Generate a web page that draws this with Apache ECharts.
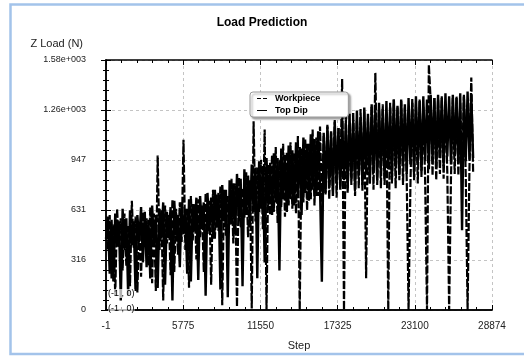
<!DOCTYPE html>
<html><head><meta charset="utf-8">
<script src="https://cdn.jsdelivr.net/npm/echarts@6/dist/echarts.min.js"></script>
<style>html,body{margin:0;padding:0;background:#fff}#c{width:524px;height:356px}</style>
</head><body><div id="c"></div>
<script>
const seriesNames = ['Workpiece', 'Top Dip'];
const xTickValues = [-1, 5775, 11550, 17325, 23100, 28874];
const yTickLabels = ['0', '316', '631', '947', '1.26e+003', '1.58e+003'];
const SAMPLE_STEP = 138;

const workpiece = [
  560, 380, 600, 200, 540, 90, 640, 400, 580, 250,
  610, 280, 530, 150, 690, 390, 590, 110, 560, 210,
  620, 400, 580, 280, 650, 170, 610, 120, 977, 380,
  630, 60, 660, 420, 600, 220, 700, 240, 640, 350,
  680, 430, 1076, 380, 640, 140, 720, 440, 670, 320,
  700, 460, 660, 240, 740, 480, 690, 160, 760, 450,
  730, 500, 780, 30, 760, 470, 720, 540, 830, 420,
  800, 20, 840, 520, 770, 580, 870, 460, 820, 10,
  1193, 560, 900, 620, 950, 510, 1140, 0, 920, 600,
  980, 620, 1030, 550, 950, 650, 1050, 590, 1000, 660,
  1060, 640, 990, 610, 1100, 0, 1020, 680, 1080, 630,
  1050, 700, 1140, 660, 1090, 720, 1160, 680, 1100, 730,
  1170, 700, 1120, 750, 1200, 710, 1150, 780, 1460, 0,
  1220, 740, 1170, 790, 1250, 720, 1200, 770, 1270, 750,
  1260, 200, 1210, 800, 1290, 760, 1500, 790, 1270, 770,
  1300, 790, 1240, 0, 1310, 800, 1330, 770, 1280, 820,
  1320, 790, 1280, 830, 0, 780, 1340, 820, 1300, 800,
  1330, 840, 1290, 810, 0, 1550, 1320, 850, 1340, 820,
  1330, 860, 1350, 830, 1300, 870, 0, 840, 1340, 860,
  1350, 850, 1310, 880, 1360, 850, 0, 890, 1470, 870
];
const topDip = [
  450, 590, 230, 570, 180, 610, 400, 560, 60, 640,
  380, 580, 90, 630, 410, 560, 120, 600, 430, 650,
  300, 620, 270, 570, 200, 660, 420, 600, 140, 640,
  450, 680, 160, 620, 460, 650, 60, 690, 470, 600,
  270, 680, 480, 640, 230, 700, 180, 670, 500, 710,
  190, 720, 520, 680, 90, 740, 500, 710, 450, 760,
  520, 740, 130, 790, 560, 760, 80, 820, 540, 800,
  480, 860, 580, 830, 150, 890, 600, 850, 540, 920,
  620, 900, 200, 940, 640, 910, 300, 960, 660, 930,
  600, 990, 680, 960, 250, 1020, 700, 980, 620, 1040,
  700, 1010, 660, 1060, 720, 1030, 600, 1090, 740, 1050,
  690, 1110, 760, 1080, 720, 1130, 780, 178, 1120, 740,
  1160, 790, 1130, 720, 1190, 800, 1150, 760, 1210, 820,
  1180, 770, 1240, 830, 1200, 760, 1260, 850, 1220, 790,
  1280, 860, 1240, 800, 1300, 870, 1260, 820, 1310, 880,
  1270, 830, 1320, 890, 1280, 840, 1330, 900, 1290, 850,
  1330, 910, 1300, 860, 1340, 920, 1310, 870, 1350, 930,
  1320, 880, 1350, 940, 1330, 890, 1360, 950, 1340, 900,
  1360, 960, 1340, 910, 1370, 970, 1350, 920, 1360, 980,
  1340, 930, 1370, 504, 1350, 940, 1380, 950, 1360, 960
];

const FONT = '"Liberation Sans", Arial, sans-serif';
const toPairs = arr => arr.map((v, i) => [i * SAMPLE_STEP, v]);
const chart = echarts.init(document.getElementById('c'));

const gridX = {
  type: 'value', min: 0, max: 5, interval: 1,
  axisLine: { show: true, lineStyle: { color: '#000', width: 1.5 } },
  axisLabel: { show: false },
  axisTick: { show: true, inside: true, length: 5, lineStyle: { color: '#000' } },
  minorTick: { show: true, splitNumber: 5, length: 3, lineStyle: { color: '#000' } },
  splitLine: { show: false }
};
const tickY = {
  type: 'value', min: 0, max: 1580, interval: 316,
  axisLine: { show: true, lineStyle: { color: '#000', width: 1.5 } },
  axisTick: { show: true, inside: true, length: 5, lineStyle: { color: '#000' } },
  minorTick: { show: true, splitNumber: 5, length: 3, lineStyle: { color: '#000' } }
};

chart.setOption({
  animation: false,
  backgroundColor: '#fff',
  textStyle: { fontFamily: FONT },
  title: {
    text: 'Load Prediction', left: 'center', top: 12,
    textStyle: { fontSize: 12, fontWeight: 'bold', color: '#000', fontFamily: FONT }
  },
  legend: {
    data: [
      { name: seriesNames[0], icon: 'path://M0,0h4v1h-4zM6,0h4v1h-4z' },
      { name: seriesNames[1], icon: 'path://M0,0h10v1h-10z' }
    ],
    orient: 'vertical', left: 250, top: 92,
    itemWidth: 10, itemHeight: 2, itemGap: 1, padding: [1, 28, 1, 7],
    backgroundColor: '#fff', borderColor: '#999', borderWidth: 1, borderRadius: 3,
    shadowColor: 'rgba(0,0,0,0.35)', shadowBlur: 2, shadowOffsetX: 2, shadowOffsetY: 2,
    itemStyle: { color: '#000' },
    textStyle: { fontSize: 9, fontWeight: 'bold', color: '#000', fontFamily: FONT, lineHeight: 11, padding: [0, 0, 0, 3] }
  },
  grid: { left: 106, top: 60, right: 32, bottom: 39 },
  xAxis: [
    {
      type: 'value', min: -1, max: 28874,
      name: 'Step', nameLocation: 'middle', nameGap: 30,
      nameTextStyle: { fontSize: 11, color: '#222', fontFamily: FONT },
      axisLine: { show: true, lineStyle: { color: '#000', width: 1.5 } },
      axisTick: { show: false },
      axisLabel: { customValues: xTickValues, fontSize: 10, color: '#222', margin: 11, fontFamily: FONT, formatter: v => String(v) },
      splitLine: { show: false }
    },
    Object.assign({}, gridX, {
      position: 'bottom',
      splitLine: { show: true, lineStyle: { color: '#c4c4c4', type: [3, 3], width: 1 } }
    }),
    Object.assign({}, gridX, { position: 'top' })
  ],
  yAxis: [
    Object.assign({}, tickY, {
      position: 'left',
      name: 'Z Load (N)', nameLocation: 'end', nameGap: 16,
      nameTextStyle: { fontSize: 11, color: '#222', align: 'right', verticalAlign: 'middle', padding: [0, 23, 0, 0], fontFamily: FONT },
      axisLabel: {
        fontSize: 9, color: '#222', margin: 20, padding: [0, 0, 11, 0], fontFamily: FONT,
        formatter: v => yTickLabels[Math.round(v / 316)]
      },
      splitLine: { show: true, lineStyle: { color: '#c4c4c4', type: [3, 3], width: 1 } }
    }),
    Object.assign({}, tickY, {
      position: 'right', axisLabel: { show: false }, splitLine: { show: false }
    })
  ],
  series: [
    {
      name: seriesNames[0], type: 'line', data: toPairs(workpiece),
      xAxisIndex: 0, yAxisIndex: 0, symbol: 'none', showSymbol: false,
      lineStyle: { color: '#000', width: 2.2, type: [8, 2] }, itemStyle: { color: '#000' }
    },
    {
      name: seriesNames[1], type: 'line', data: toPairs(topDip),
      xAxisIndex: 0, yAxisIndex: 0, symbol: 'none', showSymbol: false,
      lineStyle: { color: '#000', width: 2.4 }, itemStyle: { color: '#000' }
    }
  ],
  graphic: [
    {
      type: 'rect', z: 100, silent: true,
      shape: { x: 10.5, y: 4.5, width: 530, height: 349.5 },
      style: { fill: 'none', stroke: '#a3c3ea', lineWidth: 2.5 }
    },
    {
      type: 'text', left: 108, top: 289, z: 100,
      style: { text: '(-1 , 0)', fontSize: 9, fill: '#000', fontFamily: FONT, backgroundColor: 'rgba(255,255,255,0.7)' }
    },
    {
      type: 'text', left: 108, top: 304, z: 100,
      style: { text: '(-1 , 0)', fontSize: 9, fill: '#000', fontFamily: FONT, backgroundColor: 'rgba(255,255,255,0.7)' }
    }
  ]
});
</script></body></html>
